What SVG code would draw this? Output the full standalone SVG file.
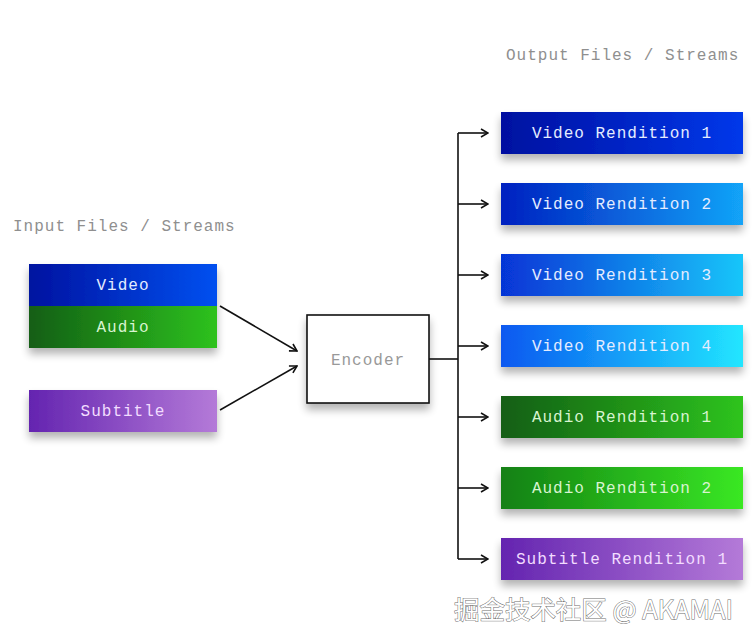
<svg xmlns="http://www.w3.org/2000/svg" width="753" height="643" viewBox="0 0 753 643">
<defs>
<linearGradient id="gVin" x1="0" x2="1" y1="0" y2="0"><stop offset="0" stop-color="#0012a0"/><stop offset="1" stop-color="#0050f0"/></linearGradient>
<linearGradient id="gAin" x1="0" x2="1" y1="0" y2="0"><stop offset="0" stop-color="#125e12"/><stop offset="1" stop-color="#2ec21e"/></linearGradient>
<linearGradient id="gSub" x1="0" x2="1" y1="0" y2="0"><stop offset="0" stop-color="#6424b0"/><stop offset="1" stop-color="#b47ad8"/></linearGradient>
<linearGradient id="gV1" x1="0" x2="1" y1="0" y2="0"><stop offset="0" stop-color="#0010a0"/><stop offset="1" stop-color="#0438ea"/></linearGradient>
<linearGradient id="gV2" x1="0" x2="1" y1="0" y2="0"><stop offset="0" stop-color="#0020c0"/><stop offset="1" stop-color="#12a4f8"/></linearGradient>
<linearGradient id="gV3" x1="0" x2="1" y1="0" y2="0"><stop offset="0" stop-color="#0634d6"/><stop offset="1" stop-color="#18c6fa"/></linearGradient>
<linearGradient id="gV4" x1="0" x2="1" y1="0" y2="0"><stop offset="0" stop-color="#0858f0"/><stop offset="1" stop-color="#22e6ff"/></linearGradient>
<linearGradient id="gA1" x1="0" x2="1" y1="0" y2="0"><stop offset="0" stop-color="#125e12"/><stop offset="1" stop-color="#2ec41e"/></linearGradient>
<linearGradient id="gA2" x1="0" x2="1" y1="0" y2="0"><stop offset="0" stop-color="#128012"/><stop offset="1" stop-color="#3ae824"/></linearGradient>
<filter id="sh" x="-10%" y="-30%" width="120%" height="180%">
<feGaussianBlur in="SourceAlpha" stdDeviation="4.5"/>
<feOffset dy="6" result="b"/>
<feComponentTransfer><feFuncA type="linear" slope="0.3"/></feComponentTransfer>
<feMerge><feMergeNode/><feMergeNode in="SourceGraphic"/></feMerge>
</filter>
<marker id="arr" viewBox="0 0 10 10" refX="9" refY="5" markerWidth="10" markerHeight="10" markerUnits="userSpaceOnUse" orient="auto">
<path d="M2,1 L9,5 L2,9" fill="none" stroke="#111" stroke-width="1.6"/>
</marker>
</defs>
<style>
.t{font-family:"Liberation Mono","Courier New",monospace;font-size:16px;letter-spacing:1px;text-anchor:middle}
.lbl{font-family:"Liberation Mono","Courier New",monospace;font-size:16px;letter-spacing:1px;fill:#8f8f8f}
.tv{fill:#e4ecff}
.ta{fill:#d8f4d0}
.ts{fill:#f2dcff}
.c{fill:none;stroke:#111;stroke-width:1.6}
</style>
<rect width="753" height="643" fill="#ffffff"/>
<text class="lbl" x="13" y="231">Input Files / Streams</text>
<text class="lbl" x="506" y="60">Output Files / Streams</text>

<g id="input-av" filter="url(#sh)">
<rect x="29" y="264" width="188" height="42" fill="url(#gVin)"/>
<rect x="29" y="306" width="188" height="42" fill="url(#gAin)"/>
</g>
<g id="input-video"><text class="t tv" x="123" y="290">Video</text></g>
<g id="input-audio"><text class="t ta" x="123" y="332">Audio</text></g>
<g id="input-subtitle">
<rect x="29" y="390" width="188" height="42" fill="url(#gSub)" filter="url(#sh)"/>
<text class="t ts" x="123" y="416">Subtitle</text>
</g>

<g id="encoder">
<rect x="307" y="315" width="122" height="88" fill="#fff" stroke="#111" stroke-width="1.6" filter="url(#sh)"/>
<text class="t" x="368" y="365" fill="#999999">Encoder</text>
</g>

<g id="out-v1"><rect x="501" y="112" width="242" height="42" fill="url(#gV1)" filter="url(#sh)"/><text class="t tv" x="622" y="138">Video Rendition 1</text></g>
<g id="out-v2"><rect x="501" y="183" width="242" height="42" fill="url(#gV2)" filter="url(#sh)"/><text class="t tv" x="622" y="209">Video Rendition 2</text></g>
<g id="out-v3"><rect x="501" y="254" width="242" height="42" fill="url(#gV3)" filter="url(#sh)"/><text class="t tv" x="622" y="280">Video Rendition 3</text></g>
<g id="out-v4"><rect x="501" y="325" width="242" height="42" fill="url(#gV4)" filter="url(#sh)"/><text class="t tv" x="622" y="351">Video Rendition 4</text></g>
<g id="out-a1"><rect x="501" y="396" width="242" height="42" fill="url(#gA1)" filter="url(#sh)"/><text class="t ta" x="622" y="422">Audio Rendition 1</text></g>
<g id="out-a2"><rect x="501" y="467" width="242" height="42" fill="url(#gA2)" filter="url(#sh)"/><text class="t ta" x="622" y="493">Audio Rendition 2</text></g>
<g id="out-s1"><rect x="501" y="538" width="242" height="42" fill="url(#gSub)" filter="url(#sh)"/><text class="t ts" x="622" y="564">Subtitle Rendition 1</text></g>

<g id="connectors">
<line class="c" x1="220" y1="306" x2="297" y2="351" marker-end="url(#arr)"/>
<line class="c" x1="220" y1="410" x2="297" y2="366" marker-end="url(#arr)"/>
<line class="c" x1="429" y1="359" x2="458" y2="359"/>
<line class="c" x1="458" y1="133" x2="458" y2="559"/>
<line class="c" x1="458" y1="133" x2="488" y2="133" marker-end="url(#arr)"/>
<line class="c" x1="458" y1="204" x2="488" y2="204" marker-end="url(#arr)"/>
<line class="c" x1="458" y1="275" x2="488" y2="275" marker-end="url(#arr)"/>
<line class="c" x1="458" y1="346" x2="488" y2="346" marker-end="url(#arr)"/>
<line class="c" x1="458" y1="417" x2="488" y2="417" marker-end="url(#arr)"/>
<line class="c" x1="458" y1="488" x2="488" y2="488" marker-end="url(#arr)"/>
<line class="c" x1="458" y1="559" x2="488" y2="559" marker-end="url(#arr)"/>
</g>

<text x="454" y="619" font-family="Noto Sans CJK SC, sans-serif" font-size="25" textLength="279" lengthAdjust="spacingAndGlyphs" fill="#ffffff" stroke="#6e6e6e" stroke-width="1" paint-order="stroke">掘金技术社区 @ AKAMAI</text>
</svg>
